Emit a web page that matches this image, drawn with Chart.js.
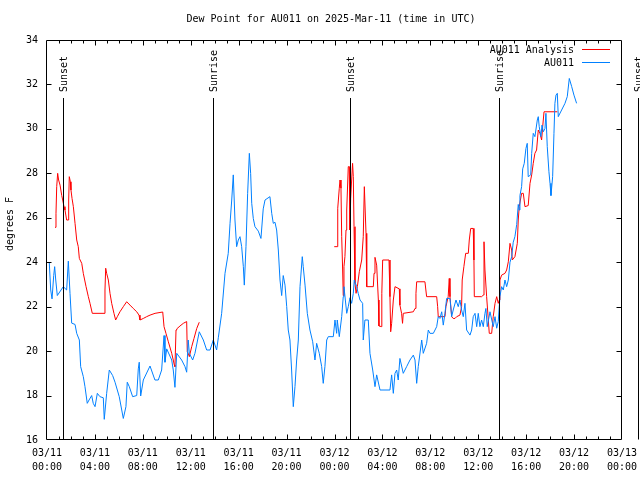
<!DOCTYPE html>
<html>
<head>
<meta charset="utf-8">
<script src="https://cdn.jsdelivr.net/npm/chart.js@4.4.1/dist/chart.umd.min.js"></script>
<style>
html,body{margin:0;padding:0;background:#fff;}
canvas{display:block;}
</style>
</head>
<body>
<canvas id="c" width="640" height="480"></canvas>
<script>
// ---- data (hours since 03/11 00:00 UTC) ----
const chartTitle = "Dew Point for AU011 on 2025-Mar-11 (time in UTC)";
const yAxisLabel = "degrees F";
const seriesNames = ["AU011 Analysis", "AU011"];
const xTickDates = ["03/11","03/11","03/11","03/11","03/11","03/11","03/12","03/12","03/12","03/12","03/12","03/12","03/13"];
const xTickTimes = ["00:00","04:00","08:00","12:00","16:00","20:00","00:00","04:00","08:00","12:00","16:00","20:00","00:00"];
const sunTimes = [1.36, 13.83, 25.32, 37.76, 49.36];
const sunLabels = ["Sunset","Sunrise","Sunset","Sunrise","Sunset"];

const obsTimes = [0.19,0.31,0.42,0.56,0.64,0.73,0.86,1.36,1.64,1.78,1.92,2.06,2.34,2.48,2.70,2.81,3.03,3.17,3.36,3.51,3.73,3.86,4.01,4.20,4.42,4.70,4.78,4.98,5.20,5.48,5.68,6.03,6.37,6.59,6.70,6.87,7.15,7.49,7.62,7.70,7.82,8.04,8.60,9.01,9.29,9.57,9.77,9.85,9.99,10.41,10.54,10.68,10.83,11.24,11.52,11.66,11.79,11.88,12.16,12.35,12.71,13.05,13.33,13.61,13.88,14.16,14.30,14.58,14.86,15.13,15.28,15.42,15.55,15.69,15.83,15.97,16.11,16.25,16.39,16.47,16.61,16.75,16.89,17.00,17.09,17.22,17.36,17.64,17.86,18.05,18.20,18.61,18.76,18.89,19.03,19.17,19.31,19.45,19.59,19.72,19.87,20.01,20.14,20.28,20.42,20.56,20.70,20.84,20.98,21.12,21.31,21.39,21.54,21.73,21.95,22.18,22.37,22.51,22.73,22.93,23.06,23.20,23.35,23.48,23.90,24.04,24.18,24.23,24.40,24.60,24.73,24.79,25.02,25.15,25.29,25.43,25.57,25.65,25.85,25.98,26.13,26.35,26.40,26.54,26.82,26.96,27.19,27.38,27.52,27.80,28.63,28.77,28.91,29.05,29.19,29.32,29.46,29.74,30.02,30.30,30.58,30.72,30.86,30.99,31.28,31.41,31.69,31.83,31.97,32.25,32.53,32.66,32.80,32.95,33.08,33.22,33.36,33.64,33.78,33.91,34.14,34.33,34.47,34.61,34.75,34.89,35.03,35.31,35.45,35.58,35.73,35.87,36.00,36.14,36.28,36.42,36.56,36.64,36.75,36.98,37.25,37.40,37.54,37.67,37.81,37.95,38.09,38.23,38.37,38.51,38.65,38.79,38.92,39.06,39.21,39.34,39.42,39.48,39.62,39.71,39.84,39.98,40.09,40.17,40.38,40.46,40.59,40.73,40.93,41.01,41.09,41.23,41.32,41.43,41.57,41.65,41.76,41.90,41.99,42.07,42.21,42.32,42.40,42.49,42.60,42.68,42.96,43.24,43.43,43.60,43.80,43.99,44.21];
const obsValues = [23.98,22.75,22.35,23.4,23.8,23.2,22.5,22.9,22.75,24.05,22.6,21.26,21.2,20.8,20.5,19.3,18.85,18.4,17.65,17.8,18.0,17.65,17.5,18.1,17.95,17.9,16.93,18.1,19.15,18.9,18.6,17.95,16.97,17.5,18.6,18.4,17.95,18.0,19.2,19.5,17.98,18.7,19.33,18.7,18.7,19.15,20.7,19.5,20.1,19.6,19.15,18.37,19.9,19.6,19.3,19.05,20.5,19.9,19.6,19.9,20.87,20.5,20.05,20.05,20.5,20.05,20.6,21.7,23.5,24.4,25.75,26.8,27.93,25.9,24.7,25.0,25.15,24.7,23.8,22.97,24.7,27.1,28.9,28.0,26.65,25.97,25.6,25.4,25.07,26.4,26.8,26.95,26.2,25.75,25.8,25.45,24.55,23.2,22.5,23.4,22.97,22.0,20.95,20.5,19.15,17.5,18.4,19.6,20.5,22.9,24.25,23.8,22.97,21.7,20.95,20.42,19.6,20.35,19.9,19.3,18.55,19.3,20.5,20.65,20.65,21.4,20.8,21.4,20.65,21.55,22.45,22.9,21.7,22.0,22.4,22.15,22.6,23.2,22.9,22.6,22.3,22.15,20.5,21.4,21.4,19.9,19.15,18.4,18.93,18.25,18.25,18.93,18.1,19.0,19.15,18.7,19.67,19.0,19.3,19.6,19.82,19.6,18.55,19.3,20.5,19.9,20.35,20.95,20.8,20.8,21.1,21.55,21.47,21.77,21.17,21.7,22.37,22.37,21.55,21.85,22.3,22.0,22.3,21.85,21.55,22.15,20.95,20.72,20.95,21.55,21.7,21.1,21.7,21.1,21.4,21.1,21.7,21.92,21.1,21.77,21.1,21.55,21.03,21.33,22.45,22.9,22.75,23.2,22.9,23.2,24.0,24.25,24.9,25.15,25.7,26.6,26.35,27.0,27.4,28.2,28.45,29.12,29.35,27.85,27.93,28.9,29.8,29.65,30.4,30.55,30.1,29.65,30.17,29.87,30.02,30.7,29.2,28.07,27.55,27.0,27.85,29.8,31.15,31.52,31.6,30.55,30.85,31.15,31.45,32.27,31.9,31.52,31.15];

const anaTimes = [0.67,0.75,0.81,0.89,0.97,1.09,1.23,1.31,1.42,1.50,1.64,1.78,1.81,1.86,1.95,2.00,2.09,2.20,2.34,2.48,2.61,2.70,2.90,3.03,3.26,3.45,3.59,3.78,4.76,4.84,4.90,4.98,5.12,5.26,5.40,5.59,5.73,5.87,6.09,6.37,6.65,6.93,7.20,7.49,7.68,7.76,8.04,8.32,8.60,9.02,9.66,9.77,9.93,10.13,10.41,10.54,10.63,10.68,10.77,10.83,11.10,11.38,11.66,11.71,11.79,11.88,12.08,12.27,12.50,12.71,
  18.00,
  23.98,24.26,24.27,24.40,24.46,24.54,24.60,24.68,24.73,24.79,24.87,24.96,25.02,25.15,25.23,25.29,25.35,25.43,25.51,25.57,25.63,25.71,25.80,25.91,26.07,26.27,26.40,26.49,26.54,26.63,26.69,27.24,27.30,27.38,27.52,27.66,27.71,27.94,27.95,28.02,28.55,28.63,28.69,28.77,28.91,29.05,29.41,29.46,29.60,29.68,29.74,30.58,30.72,30.80,30.86,31.55,31.69,32.53,32.61,32.66,33.22,33.30,33.49,33.58,33.64,33.78,33.91,34.06,34.20,34.47,34.61,34.66,34.80,34.95,35.17,35.25,35.37,35.58,35.64,35.67,36.28,36.42,36.48,36.56,36.70,36.84,36.92,37.12,37.25,37.40,37.54,37.67,37.76,37.81,37.95,38.23,38.37,38.51,38.65,38.79,38.84,39.06,39.26,39.34,39.42,39.62,39.76,39.90,40.17,40.32,40.46,40.59,40.73,40.87,41.01,41.15,41.29,41.38,41.49,41.65,42.60];
const anaValues = [25.57,26.2,27.4,28.0,27.7,27.47,27.0,26.8,26.5,26.35,25.9,25.9,26.8,27.85,27.62,27.25,26.87,26.5,25.75,25.0,24.7,24.17,23.95,23.5,22.9,22.45,22.15,21.7,21.7,22.75,23.73,23.5,23.2,22.6,22.15,21.7,21.4,21.55,21.77,22.0,22.22,22.07,21.92,21.77,21.62,21.4,21.47,21.55,21.62,21.7,21.76,21.1,20.8,20.42,19.9,19.6,19.37,19.3,20.95,21.0,21.13,21.25,21.33,19.97,19.9,19.75,20.2,20.57,21.02,21.3,
  null,
  24.7,24.7,26.43,27.33,27.7,27.33,25.15,23.65,22.5,23.8,24.25,25.45,26.35,28.3,28.3,25.45,26.87,27.7,28.45,27.85,25.6,23.05,22.6,22.9,23.57,24.1,25.15,27.4,27.4,25.3,22.9,22.9,23.5,24.22,23.87,22.3,21.13,21.1,22.6,24.1,24.1,22.45,20.87,21.25,22.3,22.9,22.8,22.07,21.7,21.25,21.7,21.77,21.92,22.6,23.12,23.12,22.45,22.45,22.0,21.55,21.55,22.0,22.45,23.27,22.45,21.55,21.47,21.47,21.55,21.62,22.0,23.2,23.8,24.4,24.4,25.0,25.52,25.52,24.1,22.45,22.45,22.52,24.92,23.65,22.45,21.4,20.8,20.8,21.55,22.15,22.45,22.15,22.3,23.2,23.42,23.5,23.65,24.02,24.85,24.55,24.1,24.25,24.85,25.9,26.5,27.1,27.1,26.5,26.55,27.55,27.93,28.45,28.9,29.05,29.95,29.8,29.5,30.1,30.77,30.77,30.77];

const FONT = "'DejaVu Sans Mono', 'Liberation Mono', monospace";
const BLUE = 'rgb(0,128,255)';
const RED = 'rgb(255,0,0)';

function toPoints(ts, vs) { return ts.map((t, i) => ({x: t, y: vs[i]})); }

const overlay = {
  id: 'overlay',
  afterDraw(chart) {
    const {ctx, chartArea: a, scales: {x, y}} = chart;
    const L = Math.round(a.left) - 0.5, R = Math.round(a.right) - 0.5;
    const T = Math.round(a.top) + 0.5, B = Math.round(a.bottom) - 0.5;
    ctx.save();
    ctx.strokeStyle = '#000';
    ctx.lineWidth = 1;
    // sunrise / sunset lines
    ctx.beginPath();
    sunTimes.forEach(t => {
      const px = Math.round(x.getPixelForValue(t)) + 0.5;
      ctx.moveTo(px, 98); ctx.lineTo(px, B);
    });
    ctx.stroke();
    // frame
    ctx.beginPath();
    ctx.rect(L, T, R - L, B - T);
    // x ticks (hourly minor, 4-hourly major)
    for (let h = 1; h < 48; h++) {
      const px = Math.round(x.getPixelForValue(h)) + 0.5;
      const len = (h % 4 === 0) ? 5 : 3;
      ctx.moveTo(px, B); ctx.lineTo(px, B - len);
      ctx.moveTo(px, T); ctx.lineTo(px, T + len);
    }
    // y ticks
    for (let v = 18; v < 34; v += 2) {
      const py = Math.round(y.getPixelForValue(v)) + 0.5;
      ctx.moveTo(L, py); ctx.lineTo(L + 5, py);
      ctx.moveTo(R, py); ctx.lineTo(R - 5, py);
    }
    ctx.stroke();

    ctx.fillStyle = '#000';
    ctx.font = '10px ' + FONT;
    // sun labels
    sunTimes.forEach((t, i) => {
      const px = Math.round(x.getPixelForValue(t)) + 1;
      ctx.save();
      ctx.translate(px, 92);
      ctx.rotate(-Math.PI / 2);
      ctx.textAlign = 'left';
      ctx.textBaseline = 'middle';
      ctx.fillText(sunLabels[i], 0, 0);
      ctx.restore();
    });
    // title
    ctx.textAlign = 'center';
    ctx.textBaseline = 'middle';
    ctx.fillText(chartTitle, 331, 19);
    // y label
    ctx.save();
    ctx.translate(10, 224);
    ctx.rotate(-Math.PI / 2);
    ctx.fillText(yAxisLabel, 0, 0);
    ctx.restore();
    // legend
    const colors = [RED, BLUE];
    seriesNames.forEach((n, i) => {
      const ly = 50 + i * 13;
      ctx.fillStyle = '#000';
      ctx.textAlign = 'right';
      ctx.fillText(n, 574, ly);
      ctx.strokeStyle = colors[i];
      ctx.beginPath();
      ctx.moveTo(582, ly - 0.5); ctx.lineTo(610, ly - 0.5);
      ctx.stroke();
    });
    ctx.restore();
  }
};

new Chart(document.getElementById('c'), {
  type: 'line',
  data: {
    datasets: [
      {label: seriesNames[1], data: toPoints(obsTimes, obsValues), borderColor: BLUE, borderWidth: 1, pointRadius: 0, tension: 0, fill: false},
      {label: seriesNames[0], data: toPoints(anaTimes, anaValues), borderColor: RED, borderWidth: 1, pointRadius: 0, tension: 0, fill: false, spanGaps: false}
    ]
  },
  options: {
    responsive: false,
    animation: false,
    devicePixelRatio: 1,
    layout: {padding: {top: 40, right: 18, left: 0, bottom: 0}},
    plugins: {legend: {display: false}, title: {display: false}, tooltip: {enabled: false}},
    scales: {
      x: {
        type: 'linear', min: 0, max: 48,
        grid: {display: false, drawTicks: false},
        border: {display: false},
        afterFit: s => { s.height = 40; s.paddingLeft = 0; s.paddingRight = 0; s.paddingTop = 0; s.paddingBottom = 0; },
        ticks: {
          stepSize: 4, autoSkip: false, maxRotation: 0, padding: 6, color: '#000',
          font: {family: FONT, size: 10, lineHeight: 1.4},
          callback: (v) => { const i = Math.round(v / 4); return [xTickDates[i], xTickTimes[i]]; }
        }
      },
      y: {
        min: 16, max: 34,
        grid: {display: false, drawTicks: false},
        border: {display: false},
        afterFit: s => { s.width = 47; s.paddingLeft = 0; s.paddingRight = 0; s.paddingTop = 0; s.paddingBottom = 0; },
        ticks: {stepSize: 2, padding: 9, color: '#000', font: {family: FONT, size: 10}}
      }
    }
  },
  plugins: [overlay]
});
</script>
</body>
</html>
